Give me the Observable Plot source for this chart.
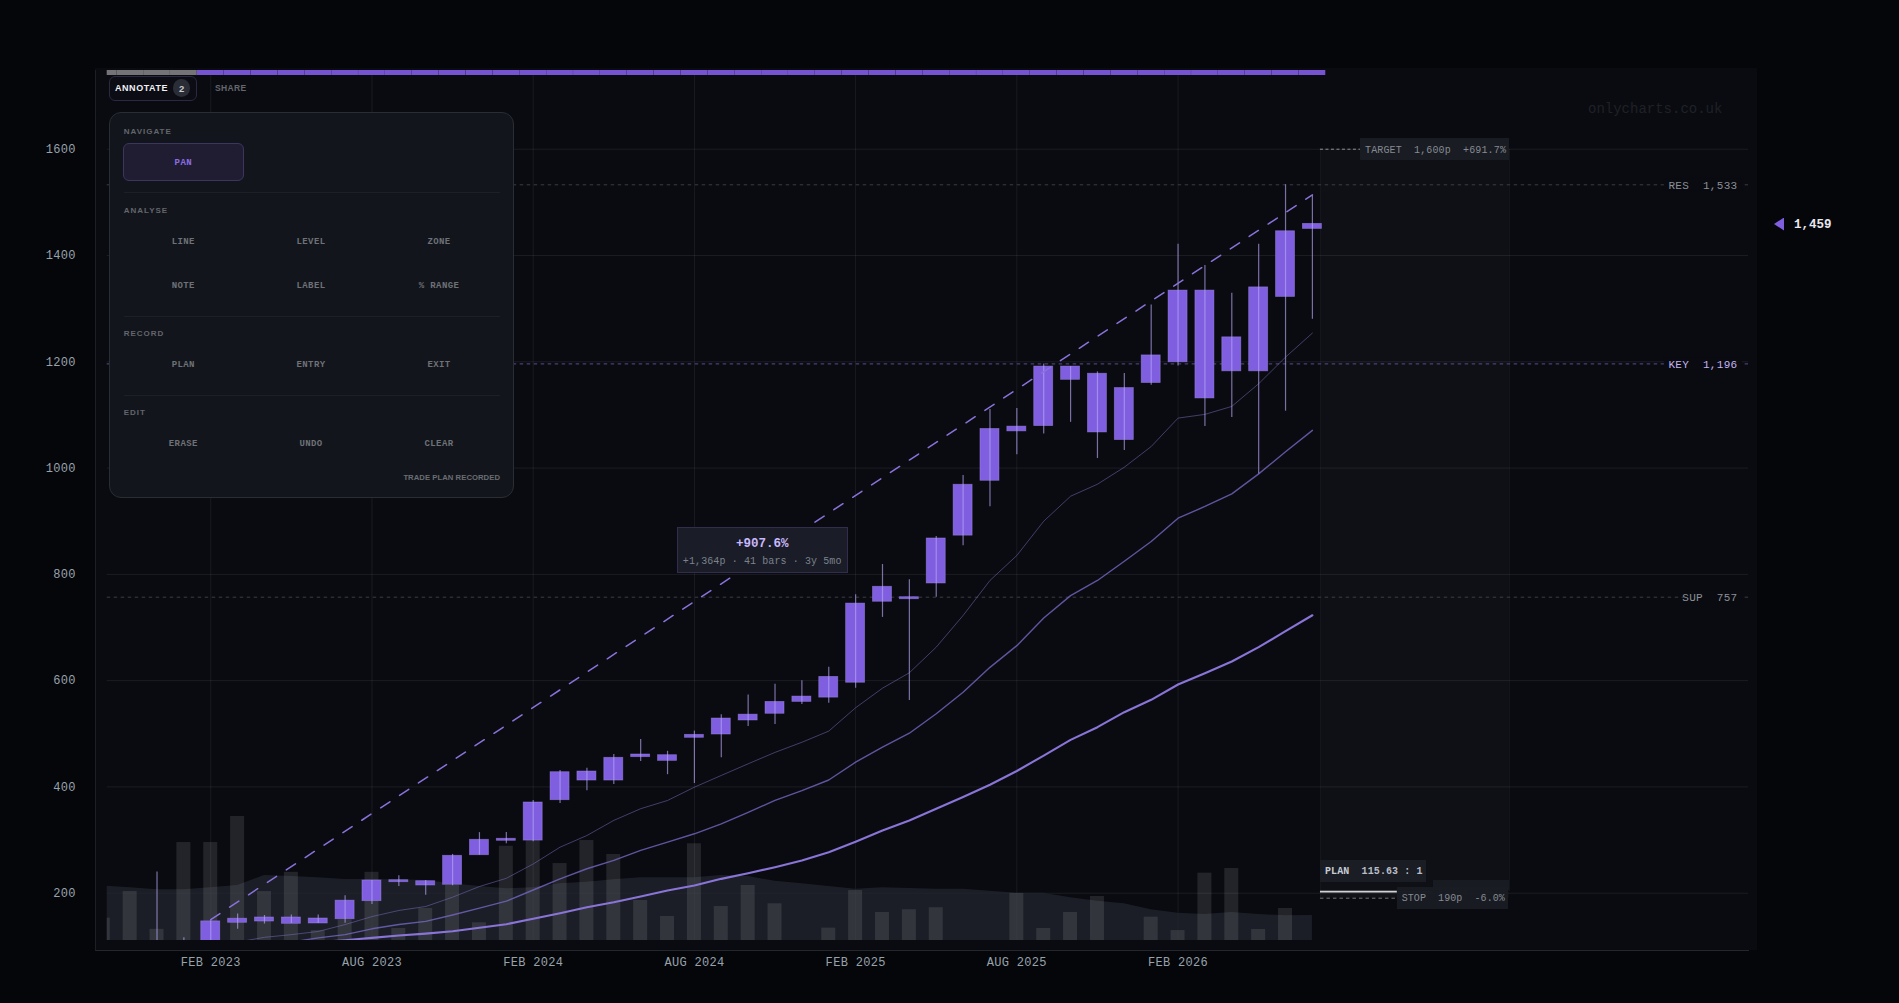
<!DOCTYPE html>
<html>
<head>
<meta charset="utf-8">
<script src="https://cdn.jsdelivr.net/npm/d3@7"></script>
<script src="https://cdn.jsdelivr.net/npm/@observablehq/plot@0.6"></script>
<style>
html,body{margin:0;padding:0;width:1899px;height:1003px;overflow:hidden;background:#05060a;}
#stage{position:relative;width:1899px;height:1003px;overflow:hidden;font-family:"Liberation Mono",monospace;}
#panelbg{position:absolute;left:95px;top:68px;width:1662px;height:882px;background:#0a0b10;}
#frame{position:absolute;left:95px;top:70px;width:1653px;height:880px;border-left:1px solid #1d1f26;border-bottom:1px solid #24262d;}
#chart{position:absolute;left:0;top:0;}
#chart svg{display:block;}
.abs{position:absolute;white-space:pre;line-height:1;}
.c{transform:translate(-50%,-50%);}
.l{transform:translate(0,-50%);}
.r{transform:translate(-100%,-50%);}
.box{position:absolute;box-sizing:border-box;}
.ax text{letter-spacing:.3px;}
.lev text{letter-spacing:.3px;white-space:pre;}
</style>
</head>
<body>
<div id="stage">
<div id="panelbg"></div>
<div id="frame"></div>
<div id="chart"></div>
</div>
<script>
// ---- data (x = months from Feb 2023, y = pence) ----
const bodyTop=[147,152,154.3,154.3,152.4,186,224,224.5,222.6,270.4,300.5,302.4,370.7,427.7,429,454.8,461,459.7,498,528.7,536,560,570,607,745,776.6,757,867.5,968.6,1073.6,1078,1191,1191,1177.5,1150.6,1212,1334,1334,1246,1340,1445.6,1459.5];
const bodyBottom=[100,144.3,146.7,142.4,143,151,185,220.7,214.5,215.8,271.5,298.6,299,375,412,412,456,449,492.4,498.6,525,537.6,560,568,596,748.4,753.2,782.8,872.8,976,1069,1079,1166,1067,1052.7,1160,1199,1131,1182,1182,1322,1450];
const wickHigh=[240,116,150,161,158,159,159,195,224,233,224,273,314,314,374.5,431,435,461,489,467,505,536,573,593,600,625,761.5,818.5,790,871,986,1110,1112,1196,1191,1181,1178,1307,1421,1381,1329,1421,1533,1513];
const wickLow=[100,100,100,132,142,143,143,143.5,178.7,212.6,196,214,271.5,293,297,369,392.7,404.6,447.8,423,406.4,455,513.7,517.5,555,557.5,585.8,719,562.6,757,854,927,1025,1064,1086,1018,1033,1156,1192,1078,1095,989,1107,1280];
const maFast=[108,117,122,128,141,156,167.5,175,192.5,212.6,228,255,286.6,308.6,337,359,374.5,399.5,421.6,443.5,465,484,505,549,585.8,614.8,663,722.6,788.5,835.5,900,947,969.6,1001.6,1040.5,1094,1101,1116,1158.7,1208.7,1254];
const maMid=[108,116,122,133,141,147,159,172,185,206,227,246,261.7,280.6,296,311.8,330.6,352,374.6,393,413,446.5,474.8,501,537.6,578,625,665.8,718,760,788.5,824.7,861.8,905.7,927.7,951.5,989,1030.7,1071];
const maSlow=[108,111.6,116,120.4,124,128.5,135,141.7,151.8,162.4,173.7,183,193.8,205,214.5,227,237.6,249,261.5,277,297,318,336.8,358.8,381,404,430,459,488.6,512.4,540.6,563.9,592.7,614,636,663,693,723];
const volume=[18,39.5,9,79,79,100,39.5,55,8,16.7,55,9.7,25.8,44.4,14.3,76,80.6,62,80.6,69.4,32.3,19.4,78,27.4,44.4,29.6,0,10,40.3,22.6,24.8,26.4,0,0,38,9.7,22.6,35.5,0,18.8,8,54.3,58,8.9,25.8,0];
const volumeMA=[44,42.6,41,41,42.5,44.4,52.4,51.6,50.6,49.2,49.2,49,48.4,45.7,43.5,41.7,42.5,45.7,47,49,50.6,50.6,50.6,52.4,51.6,47.8,45.7,43.5,41.4,42.5,41.9,41.4,41.4,39.8,38.1,38.1,34.4,31.7,29.6,24.8,22,21,22.6,21,19.9,20.2];
const yTicks=[200,400,600,800,1000,1200,1400,1600];
const xTicks=[0,6,12,18,24,30,36];
const xLabels=["FEB 2023","AUG 2023","FEB 2024","AUG 2024","FEB 2025","AUG 2025","FEB 2026"];
const levelNames=["RES","KEY","SUP"];
const levelValues=[1533,1196,757];
const levelTexts=["RES\u00a0\u00a01,533","KEY\u00a0\u00a01,196","SUP\u00a0\u00a0757"];
const levelPatchStart=[54.1,54.1,54.85];
const trendX=[0,41];
const trendY=[150.3,1514];
const targetPrice=1600,entryPrice=203,stopPrice=190.6;

// ---- scales ----
const firstBar=-4,lastBar=41;
const xDomain=[-3.854,57.23],yDomain=[111,1748.1];
const volUnit=2.3335;      // price units per volume %
const stripTop=1748.1,stripBottom=1738.7;
const zoneX1=41.3,zoneX2=48.33,targetLabelX=44.1,stopLabelX=44.16,entryLabelX=45.5,levelLabelX=56.82,levelPatchEnd=57;

const bars=d3.range(firstBar,lastBar+1);
const candles=bodyTop.map((t,k)=>({i:k,t,b:bodyBottom[k]}));
const wicks=wickHigh.map((h,k)=>({i:k-2,h,l:wickLow[k]}));
const vols=volume.map((v,k)=>({i:bars[k],v}));
const volMA=volumeMA.map((v,k)=>({i:bars[k],v}));
const fast=maFast.map((v,k)=>({i:k+1,v}));
const mid=maMid.map((v,k)=>({i:k+3,v}));
const slow=maSlow.map((v,k)=>({i:k+4,v}));
const trend=trendX.map((x,k)=>({x,y:trendY[k]}));
const levels=levelValues.map((v,k)=>({v,name:levelNames[k],text:levelTexts[k],x1:levelPatchStart[k]}));

const lvlColor=d=>d.name==="KEY"?"#574d92":"#3b3d45";
const lvlText=d=>d.name==="KEY"?"#c2b4f4":"#8b9098";

const base=yDomain[0];
const plot=Plot.plot({
  width:1899,height:1003,
  marginLeft:106.7,marginRight:151,marginTop:70,marginBottom:63,
  style:{background:"transparent",fontFamily:'"Liberation Mono",monospace',fontSize:"12px",overflow:"visible"},
  x:{type:"linear",domain:xDomain},
  y:{type:"linear",domain:yDomain},
  marks:[
    Plot.ruleX(xTicks,{stroke:"#fff",strokeOpacity:.065,strokeWidth:1}),
    Plot.ruleY(yTicks,{stroke:"#fff",strokeOpacity:.075,strokeWidth:1}),
    Plot.rect([{}],{x1:zoneX1,x2:zoneX2,y1:entryPrice,y2:targetPrice,fill:"#fff",fillOpacity:.022}),
    Plot.ruleX([zoneX2],{y1:entryPrice,y2:targetPrice,stroke:"#fff",strokeOpacity:.05}),
    Plot.ruleX([zoneX1],{y1:stopPrice,y2:targetPrice,stroke:"#fff",strokeOpacity:.03}),
    Plot.rect([{}],{x1:zoneX1,x2:zoneX2,y1:stopPrice,y2:entryPrice,fill:"#fff",fillOpacity:.03}),
    Plot.areaY(volMA,{x:"i",y1:base,y2:d=>base+d.v*volUnit,fill:"#22252e",fillOpacity:.75,clip:true}),
    Plot.rect(vols,{x1:d=>d.i-.26,x2:d=>d.i+.26,y1:base,y2:d=>base+d.v*volUnit,fill:"#fff",fillOpacity:.105,clip:true}),
    Plot.rect(bars,{x1:d=>d-.5,x2:d=>d+.5,y1:stripBottom,y2:stripTop,fill:d=>d<0?"#747478":"#7653d0",insetLeft:.06,insetRight:.06,clip:true}),
    Plot.ruleY(levels,{y:"v",stroke:lvlColor,strokeDasharray:"3.5,3.5",strokeWidth:1}),
    Plot.rect(levels,{x1:"x1",x2:levelPatchEnd,y1:d=>d.v-11,y2:d=>d.v+11,fill:"#0a0b10"}),
    Plot.text(levels,{x:levelLabelX,y:"v",dy:.6,text:"text",textAnchor:"end",fill:lvlText,fontSize:11,className:"lev"}),
    Plot.ruleY([targetPrice],{x1:zoneX1,x2:targetLabelX,stroke:"#8d8f96",strokeDasharray:"3,2.5",strokeWidth:1}),
    Plot.ruleY([stopPrice],{x1:zoneX1,x2:stopLabelX,stroke:"#72747b",strokeDasharray:"3.5,3",strokeWidth:1}),
    Plot.ruleY([entryPrice],{x1:zoneX1,x2:entryLabelX,stroke:"#fff",strokeOpacity:.15,strokeWidth:1.5}),
    Plot.ruleY([entryPrice],{x1:zoneX1,x2:stopLabelX,stroke:"#d0d2d6",strokeWidth:1.6}),
    Plot.line(fast,{x:"i",y:"v",stroke:"#7c70c4",strokeOpacity:.5,strokeWidth:1,curve:"linear",clip:true}),
    Plot.line(mid,{x:"i",y:"v",stroke:"#7567c4",strokeOpacity:.8,strokeWidth:1.4,curve:"linear",clip:true}),
    Plot.line(slow,{x:"i",y:"v",stroke:"#8a74d8",strokeWidth:2.1,curve:"linear",clip:true}),
    Plot.rect(candles,{x1:d=>d.i-.354,x2:d=>d.i+.354,y1:"b",y2:"t",fill:"#7f5fdf",stroke:"#a58ff0",strokeOpacity:.5,strokeWidth:.8,clip:true}),
    Plot.ruleX(wicks,{x:"i",y1:"l",y2:"h",stroke:"#b6a4f5",strokeOpacity:.66,strokeWidth:1.2,clip:true}),
    Plot.line(trend,{x:"x",y:"y",stroke:"#8a72dc",strokeWidth:1.5,strokeDasharray:"11,11.6",curve:"linear",clip:true}),
    Plot.axisY({ticks:yTicks,tickSize:0,tickPadding:31.5,label:null,fill:"#98a2ab",fontSize:12,className:"ax",tickFormat:d=>String(d)}),
    Plot.axisX({ticks:xTicks,tickSize:0,tickPadding:16.5,label:null,fill:"#98a2ab",fontSize:12,className:"ax",tickFormat:d=>xLabels[xTicks.indexOf(d)]})
  ]
});
document.getElementById("chart").appendChild(plot);

// ---- overlay chrome (real text) ----
const stage=document.getElementById("stage");
const mono='"Liberation Mono",monospace',sans='"Liberation Sans",Arial,sans-serif';
function box(x,y,w,h,css){const d=document.createElement("div");d.className="box";d.style.cssText=`left:${x}px;top:${y}px;width:${w}px;height:${h}px;`+css;stage.appendChild(d);return d;}
function txt(s,x,y,align,css){const d=document.createElement("div");d.className="abs "+align;d.textContent=s;d.style.cssText=`left:${x}px;top:${y}px;`+css;stage.appendChild(d);return d;}

// tabs
box(109.3,75.7,87.4,25,"border:1px solid #2b2842;border-radius:6px;background:#0c0c14;");
txt("ANNOTATE",115,88,"l",`font:bold 9px ${sans};letter-spacing:.55px;color:#f0f0f4;`);
box(173,79.3,17.4,17.4,"border-radius:50%;background:#2a2c36;");
txt("2",181.7,88.4,"c",`font:bold 9.5px ${sans};color:#c8cad0;`);
txt("SHARE",215,88,"l",`font:bold 8.5px ${sans};letter-spacing:.35px;color:#64676d;`);

// tool panel
box(109.3,111.7,404.4,386,"background:#12151b;border:1px solid #2a2d34;border-radius:12px;");
const sectionNames=["NAVIGATE","ANALYSE","RECORD","EDIT"];
const sectionY=[131,210.3,333.3,412.3];
const dividerY=[192.3,315.7,394.7];
const colX=[183.3,311,439];
const toolRows=[[241.7,["LINE","LEVEL","ZONE"]],[285.7,["NOTE","LABEL","% RANGE"]],[364.7,["PLAN","ENTRY","EXIT"]],[443.7,["ERASE","UNDO","CLEAR"]]];
sectionNames.forEach((s,k)=>txt(s,123.7,sectionY[k],"l",`font:bold 8px ${sans};letter-spacing:1px;color:#63666d;`));
dividerY.forEach(y=>box(123.7,y,376.3,1,"background:#1d2027;"));
box(123.3,143.3,120.4,37.4,"background:#201d33;border:1px solid #3a3660;border-radius:6px;");
txt("PAN",183.3,162.7,"c",`font:bold 9px ${mono};letter-spacing:.4px;color:#8a6de2;`);
toolRows.forEach(([y,names])=>names.forEach((n,k)=>txt(n,colX[k],y,"c",`font:bold 9px ${mono};letter-spacing:.4px;color:#6e7177;`)));
txt("TRADE PLAN RECORDED",500,477.3,"r",`font:bold 7.7px ${sans};letter-spacing:.05px;color:#6a6d73;`);

// watermark
txt("onlycharts.co.uk",1588,109,"l",`font:14px ${mono};color:#1f2127;`);

// +% box
box(676.7,526.7,171,46.6,"background:#1a1d27;border:1px solid #302e4c;");
txt("+907.6%",762.2,543.7,"c",`font:bold 12.5px ${mono};color:#c9b8fb;`);
txt("+1,364p · 41 bars · 3y 5mo",762.2,560.5,"c",`font:10px ${mono};letter-spacing:.1px;color:#7c828d;`);

// plan boxes
box(1360,138,149,22,"background:#191c22;");
txt("TARGET  1,600p  +691.7%",1365,149.5,"l",`font:10px ${mono};letter-spacing:.13px;color:#868b93;`);
box(1433,880,75.5,10,"background:#181b21;");
txt("ENTRY  202p",1438,891.5,"l",`font:10px ${mono};letter-spacing:.1px;color:#33363d;`);
box(1396.7,886.7,111.8,22,"background:#191c22;opacity:.96;");
txt("STOP  190p  -6.0%",1401.7,897.8,"l",`font:10px ${mono};letter-spacing:.07px;color:#858a92;`);
box(1320,860,105.7,21.7,"background:#1a1d24;");
const planT=txt("",1325,871,"l",`font:bold 10px ${mono};letter-spacing:.1px;color:#b8bcc4;`);
planT.innerHTML='<span style="color:#c8ccd4">PLAN</span>  115.63 : 1';

// last price
box(1774,217.5,10,13,"background:#7f5fdf;clip-path:polygon(100% 0,0 50%,100% 100%);");
txt("1,459",1794,224.5,"l",`font:bold 12.5px ${mono};color:#e8e8ee;`);
</script>
</body>
</html>
